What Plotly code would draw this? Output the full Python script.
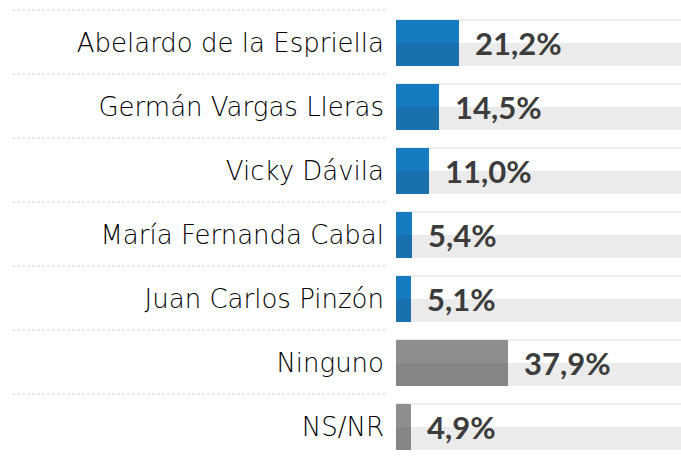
import plotly.graph_objects as go

categories = ["Abelardo de la Espriella", "Germán Vargas Lleras", "Vicky Dávila",
              "María Fernanda Cabal", "Juan Carlos Pinzón", "Ninguno", "NS/NR"]
values = [21.2, 14.5, 11.0, 5.4, 5.1, 37.9, 4.9]
value_labels = ["21,2%", "14,5%", "11,0%", "5,4%", "5,1%", "37,9%", "4,9%"]
is_candidate = [True, True, True, True, True, False, False]

W, H = 681, 458
XMAX = 96.3
HALF = 0.36

top_colors = ["#167CC1" if c else "#8E8E8E" for c in is_candidate]
bot_colors = ["#1A6FAD" if c else "#858585" for c in is_candidate]

fig = go.Figure()
# background band (lower half of each row)
fig.add_trace(go.Bar(y=categories, x=[XMAX] * len(categories), orientation="h",
                     width=HALF, offset=0, marker=dict(color="#EBEBEB", line_width=0),
                     hoverinfo="skip", showlegend=False))
# upper half of bars
fig.add_trace(go.Bar(y=categories, x=values, orientation="h", width=HALF, offset=-HALF,
                     marker=dict(color=top_colors, line_width=0), showlegend=False))
# lower half of bars
fig.add_trace(go.Bar(y=categories, x=values, orientation="h", width=HALF, offset=0,
                     marker=dict(color=bot_colors, line_width=0), showlegend=False))

shapes = []
for i in range(len(categories)):
    # thin line on top of the row
    shapes.append(dict(type="line", xref="x", yref="y", x0=0, x1=XMAX,
                       y0=i - HALF, y1=i - HALF, line=dict(color="#E6E6E6", width=1.5),
                       layer="below"))
    # dashed separator in label area
    shapes.append(dict(type="line", xref="paper", yref="y", x0=12 / W, x1=386 / W,
                       y0=i - 0.515, y1=i - 0.515,
                       line=dict(color="#D6D6D6", width=1, dash="3px,2px")))

annotations = []
for c, v, t in zip(categories, values, value_labels):
    annotations.append(dict(x=v, y=c, xref="x", yref="y", text=t, showarrow=False,
                            xanchor="left", yanchor="middle", xshift=14, yshift=0,
                            font=dict(family="Lato", size=31, color="#3C3C3C", weight="bold")))

fig.update_layout(
    width=W, height=H, margin=dict(l=0, r=0, t=0, b=0),
    paper_bgcolor="white", plot_bgcolor="white",
    barmode="overlay", bargap=0,
    shapes=shapes, annotations=annotations,
    xaxis=dict(domain=[396 / W, 1], range=[0, XMAX], visible=False, fixedrange=True),
    yaxis=dict(type="category", categoryorder="array", categoryarray=categories,
               range=[6.484, -0.672], showgrid=False, zeroline=False, showline=False,
               ticks="", ticklabelstandoff=11, fixedrange=True,
               tickfont=dict(family="DejaVu Sans", weight=200, size=26, color="#000000")),
)

fig.write_html("out.html", config={"displayModeBar": False},
               post_script="document.body.style.margin='0';")
